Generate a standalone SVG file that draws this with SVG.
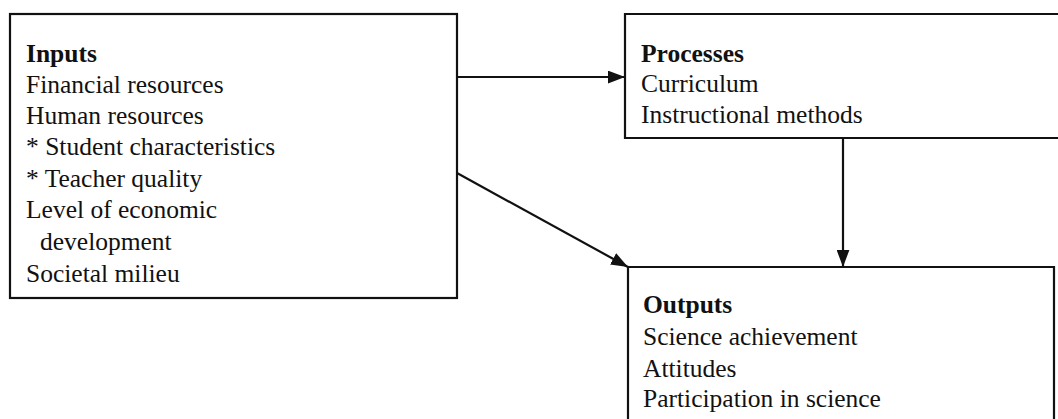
<svg xmlns="http://www.w3.org/2000/svg" width="1058" height="419" viewBox="0 0 1058 419">
  <defs>
    <marker id="arrow" viewBox="0 0 16 12" refX="16" refY="6" markerWidth="17" markerHeight="13" markerUnits="userSpaceOnUse" orient="auto">
      <path d="M0,0 L16,6 L0,12 Z" fill="#111"/>
    </marker>
  </defs>
  <style>
    .box { fill: #fff; stroke: #111; stroke-width: 2.2; }
    .edge { fill: none; stroke: #111; stroke-width: 2.2; }
    text { font-family: "Liberation Serif", "Times New Roman", serif; font-size: 25.5px; fill: #111; }
    .head { font-weight: bold; }
  </style>
  <rect width="1058" height="419" fill="#fff"/>

  <g id="inputs">
    <rect class="box" x="10" y="14" width="447" height="284"/>
    <text x="26" y="62" class="head">Inputs</text>
    <text x="26" y="93">Financial resources</text>
    <text x="26" y="124">Human resources</text>
    <text x="26" y="155">* Student characteristics</text>
    <text x="26" y="187">* Teacher quality</text>
    <text x="26" y="218">Level of economic</text>
    <text x="40" y="250">development</text>
    <text x="26" y="282">Societal milieu</text>
  </g>

  <g id="processes">
    <!-- box runs off the right edge -->
    <path class="edge" d="M1060,14 H625 V138 H1060"/>
    <text x="641" y="62" class="head">Processes</text>
    <text x="641" y="92">Curriculum</text>
    <text x="641" y="123">Instructional methods</text>
  </g>

  <g id="outputs">
    <!-- box runs off the bottom edge -->
    <path class="edge" d="M628,421 V267 H1054 V421"/>
    <text x="643" y="313" class="head">Outputs</text>
    <text x="643" y="345">Science achievement</text>
    <text x="643" y="377">Attitudes</text>
    <text x="643" y="407">Participation in science</text>
  </g>

  <g id="connectors">
    <line class="edge" x1="457" y1="77" x2="625" y2="77" marker-end="url(#arrow)"/>
    <line class="edge" x1="843" y1="138" x2="843" y2="267" marker-end="url(#arrow)"/>
    <line class="edge" x1="457" y1="173" x2="628" y2="267" marker-end="url(#arrow)"/>
  </g>
</svg>
